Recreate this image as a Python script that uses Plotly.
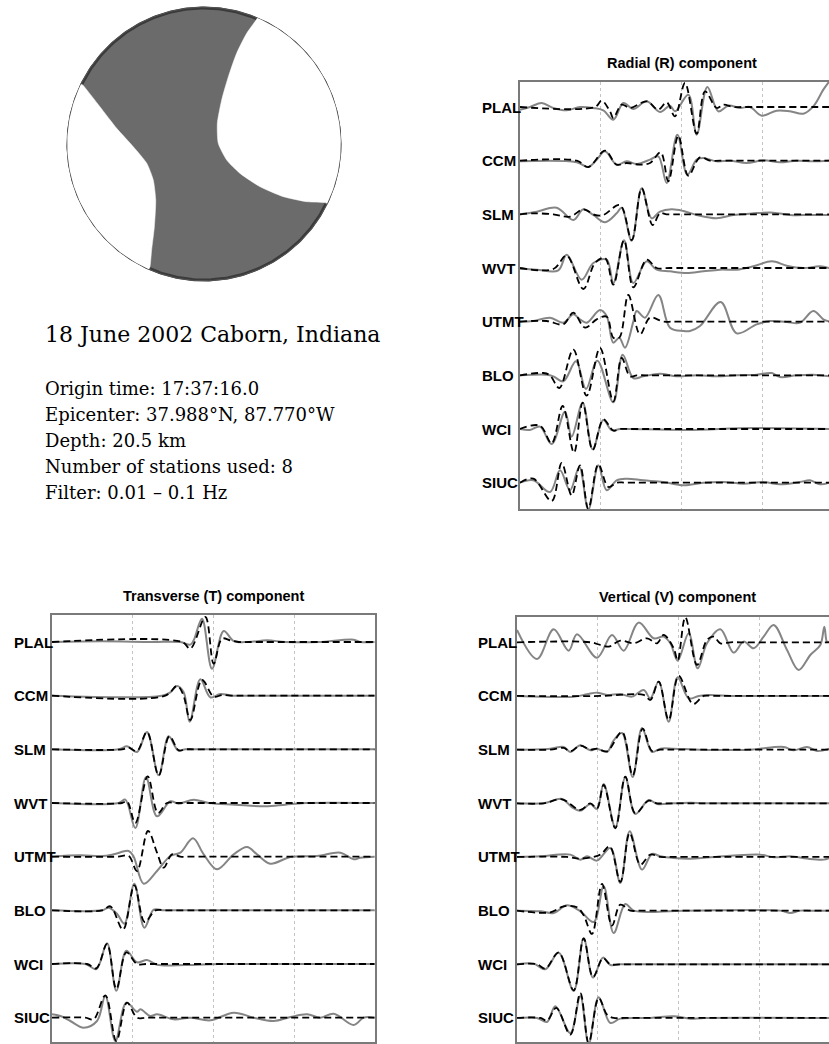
import numpy as np
import plotly.graph_objects as go

W, H = 829, 1044

STATIONS = ["PLAL", "CCM", "SLM", "WVT", "UTMT", "BLO", "WCI", "SIUC"]
ROW_SPACING = 161          # amplitude units between station baselines
GRID_T = [242, 484, 726]   # time grid lines (samples)

# ---- focal mechanism (lower hemisphere) nodal curves, unit-circle coords ----
LEFT_NODAL_X = [-0.892, -0.765, -0.642, -0.520, -0.421, -0.373, -0.355, -0.365, -0.385, -0.397]
LEFT_NODAL_Y = [0.434, 0.274, 0.115, -0.020, -0.142, -0.265, -0.412, -0.608, -0.779, -0.902]
RIGHT_NODAL_X = [0.387, 0.314, 0.240, 0.179, 0.130, 0.098, 0.105, 0.167, 0.265, 0.412, 0.583, 0.755, 0.890]
RIGHT_NODAL_Y = [0.917, 0.814, 0.667, 0.495, 0.324, 0.152, 0.005, -0.118, -0.216, -0.314, -0.387, -0.424, -0.431]

TITLE = "18 June 2002 Caborn, Indiana"
INFO_LINES = [
    "Origin time: 17:37:16.0",
    "Epicenter: 37.988°N, 87.770°W",
    "Depth: 20.5 km",
    "Number of stations used: 8",
    "Filter: 0.01 – 0.1 Hz",
]
PANEL_TITLES = ["Radial (R) component", "Transverse (T) component", "Vertical (V) component"]

# ---- waveforms: (time sample, amplitude) knots ----
RADIAL_OBS = {
    "PLAL": [(0,-8),(30,0),(65,12),(100,-3),(140,-10),(180,0),(220,-3),(250,-10),(280,-38),(310,12),(340,-6),(380,17),(420,-15),(450,4),(465,-13),(505,37),(530,-83),(562,60),(595,-13),(625,4),(660,-3),(690,0),(725,-26),(770,-11),(810,-13),(850,-20),(880,2),(910,52),(928,77)],
    "CCM": [(0,-2),(170,-5),(205,-19),(230,3),(255,28),(290,-12),(320,-2),(350,-10),(390,3),(415,13),(440,-67),(472,78),(502,-42),(530,3),(550,8),(590,-2),(630,0),(680,-7),(730,1),(780,-5),(830,0),(880,-2),(928,0)],
    "SLM": [(0,0),(50,8),(110,20),(160,-17),(190,15),(220,-2),(255,-24),(290,3),(305,20),(335,-79),(365,78),(395,-12),(420,8),(455,15),(490,10),(530,-2),(590,-12),(640,-2),(700,3),(760,5),(810,-2),(870,-2),(928,-2)],
    "WVT": [(0,-2),(50,-5),(115,-7),(140,40),(185,-35),(220,15),(260,25),(280,-45),(312,83),(340,-45),(380,20),(410,-5),(450,-10),(500,-15),(550,-10),(600,-5),(650,-5),(700,5),(755,20),(800,7),(850,0),(900,5),(928,0)],
    "UTMT": [(0,0),(40,2),(90,12),(130,-3),(160,22),(180,7),(200,-3),(240,35),(260,17),(280,-63),(298,-48),(315,-78),(340,0),(350,32),(375,12),(415,80),(450,-18),(490,-28),(510,-28),(540,-13),(602,59),(650,-35),(710,-8),(750,2),(800,-1),(840,-3),(880,32),(910,7),(928,0)],
    "BLO": [(0,0),(80,2),(100,-3),(130,-18),(168,42),(198,-41),(232,44),(280,-81),(308,62),(340,-8),(370,-3),(420,5),(470,-3),(530,0),(590,-3),(650,0),(710,2),(755,7),(780,-5),(830,0),(880,2),(928,-3)],
    "WCI": [(0,0),(30,-3),(60,7),(95,-45),(135,52),(155,-23),(188,79),(218,-61),(250,27),(275,-3),(300,0),(330,0),(500,-3),(700,3),(928,0)],
    "SIUC": [(0,0),(40,7),(90,-28),(120,37),(150,-23),(178,47),(205,-81),(235,52),(260,-23),(290,7),(320,12),(370,7),(430,2),(490,-8),(550,0),(610,2),(670,-3),(730,2),(780,-5),(840,2),(870,7),(900,-5),(928,0)],
}
RADIAL_SYN = {
    "PLAL": [(0,0),(225,0),(245,19),(270,-13),(280,-33),(305,7),(330,-3),(380,17),(415,-8),(440,14),(465,-28),(495,72),(530,-80),(555,47),(590,-3),(610,7),(640,0),(670,0),(928,0)],
    "CCM": [(0,0),(170,0),(205,-19),(255,30),(290,-12),(320,-7),(360,-12),(390,-7),(422,25),(445,-62),(475,75),(505,-45),(540,10),(570,0),(600,0),(928,0)],
    "SLM": [(0,0),(40,3),(100,0),(150,-7),(190,15),(225,-2),(250,-2),(300,28),(335,-77),(365,78),(398,-32),(420,3),(440,0),(470,0),(928,0)],
    "WVT": [(0,0),(100,-3),(140,37),(190,-63),(225,15),(255,30),(280,-50),(312,83),(340,-58),(380,25),(410,0),(450,0),(928,0)],
    "UTMT": [(0,0),(80,2),(130,-8),(160,27),(195,-18),(230,7),(260,15),(280,-48),(298,-48),(325,80),(360,-38),(390,12),(430,0),(460,0),(928,0)],
    "BLO": [(0,0),(70,7),(90,0),(118,-38),(160,77),(200,-61),(240,82),(280,-78),(305,52),(330,-3),(350,0),(380,0),(928,0)],
    "WCI": [(0,0),(60,10),(95,-43),(128,69),(162,-71),(188,79),(218,-63),(250,29),(280,-5),(300,0),(330,0),(928,0)],
    "SIUC": [(0,0),(40,12),(95,-55),(125,59),(155,-38),(180,52),(205,-78),(235,55),(265,-13),(290,0),(320,0),(928,0)],
}

TRANSVERSE_OBS = {
    "PLAL": [(0,0),(150,2),(300,0),(385,0),(415,-8),(425,5),(450,70),(480,-80),(515,33),(545,3),(590,0),(645,5),(700,0),(800,0),(905,7),(925,0),(968,0)],
    "CCM": [(0,0),(330,0),(355,10),(375,29),(395,10),(413,-78),(445,49),(475,-5),(505,5),(540,0),(570,0),(968,0)],
    "SLM": [(0,0),(200,0),(225,9),(255,-8),(285,52),(320,-78),(350,39),(378,-3),(400,0),(430,0),(968,0)],
    "WVT": [(0,0),(200,0),(220,10),(250,-75),(282,77),(315,-40),(355,5),(380,-2),(425,10),(470,0),(550,-5),(640,-10),(700,-5),(760,0),(968,0)],
    "UTMT": [(0,0),(85,4),(150,2),(185,7),(230,17),(245,0),(275,-81),(315,-43),(355,2),(385,12),(423,55),(455,7),(495,-38),(545,7),(585,29),(615,7),(655,-21),(715,-1),(795,2),(865,12),(905,-8),(925,-3),(968,0)],
    "BLO": [(0,0),(150,0),(170,8),(195,-10),(217,-40),(247,80),(277,-52),(305,2),(335,0),(365,0),(968,0)],
    "WCI": [(0,0),(100,0),(133,-15),(165,62),(193,-80),(223,40),(255,5),(285,12),(315,-2),(400,-3),(500,0),(560,0),(968,0)],
    "SIUC": [(0,10),(25,5),(55,-10),(95,-30),(135,-10),(160,65),(190,-70),(223,45),(255,18),(265,25),(295,5),(315,10),(365,-5),(415,0),(475,-8),(545,15),(605,0),(665,-10),(715,2),(765,10),(805,0),(845,12),(905,-22),(935,0),(968,0)],
}
TRANSVERSE_SYN = {
    "PLAL": [(0,0),(390,0),(415,-20),(460,75),(485,-65),(510,10),(535,5),(560,0),(590,0),(968,0)],
    "CCM": [(0,0),(340,0),(375,29),(393,5),(415,-73),(450,47),(485,-3),(510,2),(540,0),(570,0),(968,0)],
    "SLM": [(0,0),(210,0),(230,5),(255,-5),(285,52),(320,-78),(352,39),(380,-3),(400,0),(430,0),(968,0)],
    "WVT": [(0,0),(210,0),(225,5),(250,-60),(287,80),(318,-30),(345,0),(375,0),(968,0)],
    "UTMT": [(0,0),(195,0),(230,2),(255,-43),(288,77),(315,12),(335,-33),(360,7),(385,0),(415,0),(968,0)],
    "BLO": [(0,0),(150,0),(175,12),(213,-58),(247,75),(278,-35),(310,0),(340,0),(968,0)],
    "WCI": [(0,0),(105,0),(133,-13),(165,60),(193,-75),(223,35),(255,0),(285,0),(968,0)],
    "SIUC": [(0,0),(100,0),(125,-5),(160,67),(193,-70),(225,45),(255,0),(285,0),(968,0)],
}

VERTICAL_OBS = {
    "PLAL": [(0,37),(60,-50),(110,39),(155,-25),(180,24),(240,-46),(285,22),(320,-25),(365,59),(410,12),(440,17),(460,-3),(482,-55),(515,27),(542,-78),(570,-3),(610,39),(650,-31),(680,2),(710,-18),(740,17),(770,52),(810,-23),(845,-83),(880,-38),(910,-8),(922,47),(930,2),(937,2)],
    "CCM": [(0,0),(170,-2),(210,5),(240,10),(270,3),(310,6),(345,-2),(380,18),(400,-7),(425,43),(455,-77),(482,56),(515,-7),(545,0),(580,3),(640,0),(680,0),(937,0)],
    "SLM": [(0,0),(100,3),(140,8),(160,-7),(190,13),(220,-2),(240,3),(270,-7),(290,28),(315,50),(347,-82),(375,65),(405,-7),(430,3),(470,3),(550,0),(700,0),(800,8),(830,-2),(870,8),(900,-4),(937,3)],
    "WVT": [(0,0),(80,0),(135,13),(165,-12),(190,-22),(220,-2),(240,-17),(260,58),(295,-72),(325,78),(355,-32),(395,10),(420,-2),(470,0),(520,2),(560,0),(600,0),(937,0)],
    "UTMT": [(0,0),(70,2),(160,7),(190,-8),(210,2),(240,-11),(280,27),(310,-78),(338,77),(375,-38),(405,9),(430,2),(470,-3),(520,-5),(580,-1),(730,7),(770,-1),(820,2),(870,-5),(920,-8),(937,-3)],
    "BLO": [(0,0),(70,-2),(110,-7),(150,16),(190,-2),(230,-34),(260,73),(290,-67),(325,20),(350,0),(500,0),(790,0),(820,-7),(850,0),(880,0),(937,0)],
    "WCI": [(0,0),(50,2),(85,-15),(125,35),(170,-80),(200,78),(228,-40),(258,20),(280,-2),(310,0),(340,0),(937,0)],
    "SIUC": [(0,0),(60,0),(90,-12),(115,35),(160,-45),(190,65),(215,-78),(245,62),(280,-15),(310,-2),(400,0),(470,5),(520,-2),(560,0),(937,0)],
}
VERTICAL_SYN = {
    "PLAL": [(0,0),(220,0),(250,-8),(275,-13),(310,5),(350,-3),(390,12),(420,-3),(440,22),(470,-18),(482,-55),(505,75),(540,-68),(570,7),(590,17),(610,-3),(640,0),(670,0),(937,0)],
    "CCM": [(0,0),(250,0),(380,3),(400,-12),(425,43),(455,-72),(485,60),(528,-24),(560,0),(590,0),(937,0)],
    "SLM": [(0,0),(100,0),(140,5),(160,-5),(190,12),(220,0),(240,3),(270,-5),(315,53),(347,-77),(377,63),(405,-4),(430,0),(460,0),(937,0)],
    "WVT": [(0,0),(80,0),(135,12),(190,-20),(220,0),(240,-15),(260,55),(295,-75),(325,80),(355,-30),(395,8),(420,0),(450,0),(937,0)],
    "UTMT": [(0,0),(150,0),(190,-5),(250,7),(278,32),(310,-75),(338,72),(370,-23),(400,7),(430,0),(460,0),(937,0)],
    "BLO": [(0,0),(100,-5),(140,13),(180,10),(200,-14),(225,-70),(255,80),(285,-45),(310,18),(340,0),(370,0),(937,0)],
    "WCI": [(0,0),(60,0),(85,-13),(125,35),(170,-78),(200,78),(228,-38),(258,18),(280,0),(310,0),(937,0)],
    "SIUC": [(0,0),(70,0),(90,-8),(118,30),(160,-50),(190,75),(215,-75),(245,60),(270,10),(290,0),(320,0),(937,0)],
}

OBS_COLOR = "#858585"
SYN_COLOR = "#000000"
AXIS_COLOR = "#7a7a7a"


def px_x(p):
    return p / W


def px_y(p):
    return 1 - p / H


fig = go.Figure()

# ---------------- beachball ----------------
cx, cy, half = 204, 144, 140
rng = half / 136.0
th = np.linspace(0, 2 * np.pi, 361)
fig.add_trace(go.Scatter(x=np.cos(th), y=np.sin(th), mode="lines", fill="toself",
                         fillcolor="#6b6b6b", line=dict(color="#3a3a3a", width=3),
                         xaxis="x", yaxis="y", hoverinfo="skip"))


def white_region(xs, ys, a_start, a_end):
    arc = np.linspace(a_start, a_end, 80)
    px = list(xs) + list(np.cos(arc)) + [xs[0]]
    py = list(ys) + list(np.sin(arc)) + [ys[0]]
    return px, py


a_end_l = np.arctan2(LEFT_NODAL_Y[-1], LEFT_NODAL_X[-1]) % (2 * np.pi)
a_start_l = np.arctan2(LEFT_NODAL_Y[0], LEFT_NODAL_X[0]) % (2 * np.pi)
lx, ly = white_region(LEFT_NODAL_X, LEFT_NODAL_Y, a_end_l, a_start_l)
fig.add_trace(go.Scatter(x=lx, y=ly, mode="lines", fill="toself", fillcolor="white",
                         line=dict(color="white", width=0.5, shape="spline", smoothing=0.6),
                         xaxis="x", yaxis="y", hoverinfo="skip"))
a_end_r = np.arctan2(RIGHT_NODAL_Y[-1], RIGHT_NODAL_X[-1])
a_start_r = np.arctan2(RIGHT_NODAL_Y[0], RIGHT_NODAL_X[0])
rx, ry = white_region(RIGHT_NODAL_X, RIGHT_NODAL_Y, a_end_r, a_start_r)
fig.add_trace(go.Scatter(x=rx, y=ry, mode="lines", fill="toself", fillcolor="white",
                         line=dict(color="white", width=0.5, shape="spline", smoothing=0.6),
                         xaxis="x", yaxis="y", hoverinfo="skip"))
fig.add_trace(go.Scatter(x=1.006 * np.cos(th), y=1.006 * np.sin(th), mode="lines",
                         line=dict(color="#555555", width=1), xaxis="x", yaxis="y", hoverinfo="skip"))
for xs, ys, a0, a1 in [(LEFT_NODAL_X, LEFT_NODAL_Y, a_end_l, a_start_l),
                       (RIGHT_NODAL_X, RIGHT_NODAL_Y, a_end_r, a_start_r)]:
    arc = np.linspace(a0, a1, 80)
    fig.add_trace(go.Scatter(x=1.0 * np.cos(arc), y=1.0 * np.sin(arc), mode="lines",
                             line=dict(color="white", width=1.6), xaxis="x", yaxis="y",
                             hoverinfo="skip"))

hidden = dict(visible=False, fixedrange=True)
fig.update_layout(
    xaxis=dict(domain=[px_x(cx - half), px_x(cx + half)], range=[-rng, rng], **hidden),
    yaxis=dict(domain=[px_y(cy + half), px_y(cy - half)], range=[-rng, rng], **hidden),
)

# ---------------- waveform panels ----------------
panels = [
    (RADIAL_OBS, RADIAL_SYN, 2, 520, 829, 927, 82, 509, 480, False, PANEL_TITLES[0], 682, 63),
    (TRANSVERSE_OBS, TRANSVERSE_SYN, 3, 52, 374.7, 968, 615, 1042, 12, True, PANEL_TITLES[1], 213, 596),
    (VERTICAL_OBS, VERTICAL_SYN, 4, 517, 829, 936, 617, 1042, 476, False, PANEL_TITLES[2], 677, 597),
]
first_base_px = {2: 107, 3: 642, 4: 642.3}

annotations = []
for obs, syn, ax, xl, xr, tmax, yt, yb, lab_x, mirror_r, ptitle, tx, ty in panels:
    yunits_per_px = 3.0
    top_val = 7 * ROW_SPACING + (first_base_px[ax] - yt) * yunits_per_px
    bot_val = top_val - (yb - yt) * yunits_per_px
    xa, ya = f"x{ax}", f"y{ax}"
    for i, st in enumerate(STATIONS):
        off = (7 - i) * ROW_SPACING
        t_o = [p[0] for p in obs[st]]
        a_o = [p[1] + off for p in obs[st]]
        t_s = [p[0] for p in syn[st]]
        a_s = [p[1] + off for p in syn[st]]
        fig.add_trace(go.Scatter(x=t_o, y=a_o, mode="lines", xaxis=xa, yaxis=ya,
                                 line=dict(color=OBS_COLOR, width=2, shape="spline", smoothing=1.0),
                                 hoverinfo="skip"))
        fig.add_trace(go.Scatter(x=t_s, y=a_s, mode="lines", xaxis=xa, yaxis=ya,
                                 line=dict(color=SYN_COLOR, width=1.8, shape="spline", smoothing=1.0,
                                           dash="7px,4px"),
                                 hoverinfo="skip"))
        annotations.append(dict(text=st, xref="paper", yref=ya, x=px_x(lab_x), y=off,
                                xanchor="left", yanchor="middle", showarrow=False,
                                font=dict(family="Liberation Sans, Arial", size=15, color="black",
                                          weight="bold")))
    annotations.append(dict(text=ptitle, xref="paper", yref="paper", x=px_x(tx), y=px_y(ty),
                            xanchor="center", yanchor="middle", showarrow=False,
                            font=dict(family="Liberation Sans, Arial", size=14.5, color="black",
                                      weight="bold")))
    fig.update_layout(**{
        f"xaxis{ax}": dict(domain=[px_x(xl), min(1.0, px_x(xr))], range=[0, tmax],
                           showline=True, mirror=True, linecolor=AXIS_COLOR, linewidth=1.5,
                           showgrid=True, gridcolor="#c4c4c4", griddash="dot", gridwidth=1,
                           tickmode="array", tickvals=GRID_T, showticklabels=False, ticks="",
                           zeroline=False, fixedrange=True, anchor=ya),
        f"yaxis{ax}": dict(domain=[px_y(yb), px_y(yt)], range=[bot_val, top_val],
                           showline=True, mirror=mirror_r, linecolor=AXIS_COLOR, linewidth=1.5,
                           showgrid=False, showticklabels=False, ticks="", zeroline=False,
                           fixedrange=True, anchor=xa),
    })

# ---------------- event text ----------------
annotations.append(dict(text=TITLE, xref="paper", yref="paper", x=px_x(43), y=px_y(335),
                        xanchor="left", yanchor="middle", showarrow=False,
                        font=dict(family="DejaVu Serif", size=22, color="black")))
for i, line in enumerate(INFO_LINES):
    annotations.append(dict(text=line, xref="paper", yref="paper", x=px_x(43), y=px_y(388 + 26.1 * i),
                            xanchor="left", yanchor="middle", showarrow=False,
                            font=dict(family="DejaVu Serif", size=18, color="black")))

fig.update_layout(
    width=W, height=H, margin=dict(l=0, r=0, t=0, b=0),
    paper_bgcolor="white", plot_bgcolor="white", showlegend=False,
    annotations=annotations,
)

fig.write_html("out.html")
